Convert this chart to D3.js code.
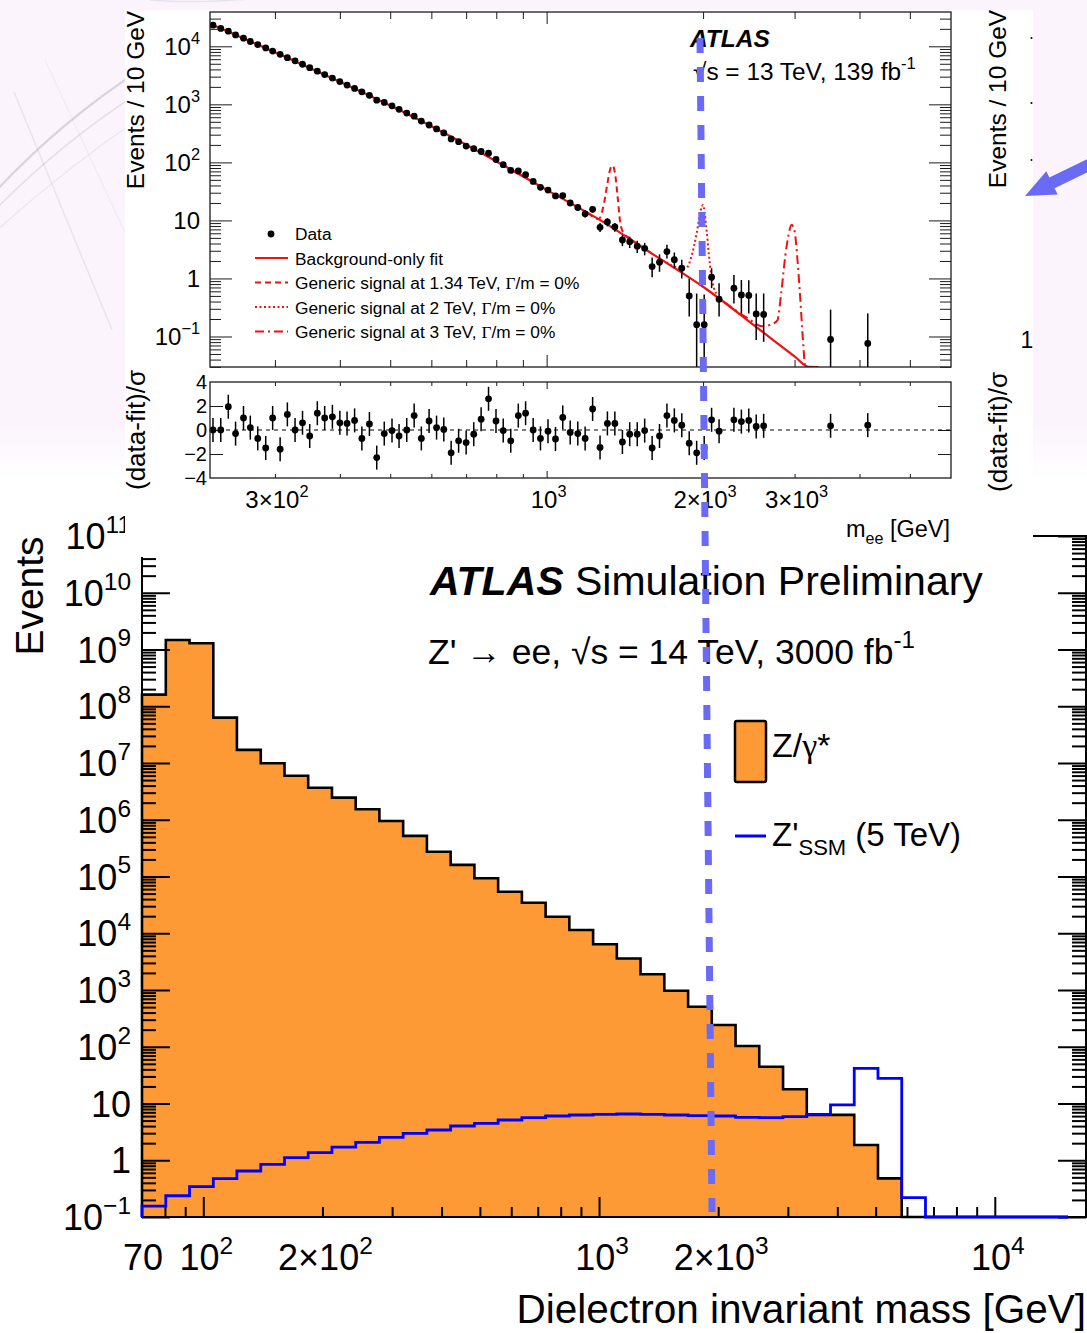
<!DOCTYPE html>
<html>
<head>
<meta charset="utf-8">
<script src="https://cdn.jsdelivr.net/npm/d3@7"></script>
<style>
  html, body { margin: 0; padding: 0; background: #ffffff; }
  svg { display: block; }
</style>
</head>
<body>
<svg id="chart" width="1087" height="1333"></svg>
<script>
// ---------------- Upper panel: 13 TeV dielectron spectrum, 139 fb-1 ----------------
const dataMass = [228,236,244,252,261,269,278,288,297,307,317,328,339,350,362,374,387,400,413,427,
  441,456,471,487,504,520,538,556,574,594,614,634,655,677,700,
  724,748,773,799,825,853,882,911,942,973,
  1006,1040,1074,1110,1148,1186,1226,1267,1309,1353,1399,1445,1494,
  1544,1596,1649,1704,1761,1820,1881,1944,2010,2077,2147,
  2293,2370,2449,2531,2616,
  3519,4149];
const dataValue = [23100,20300,18200,15700,13800,12100,10700,9390,8260,7260,6380,5610,4910,4280,3730,3260,2830,2470,2150,1880,
  1640,1430,1180,1080,944,822,706,626,515,441,377,322,254,227,191,
  172,154,144,112,91.4,72.7,71.2,61.5,47.0,37.2,
  33.3,26.4,26.8,20.0,16.7,13.0,15.5,7.6,9.4,7.7,4.6,4.3,3.6,
  3.3,1.6,1.9,2.9,2.1,1.5,0.5,0.16,0.16,1.05,0.44,
  0.68,0.52,0.51,0.245,0.24,
  0.089,0.076];
const dataPull = [0,0,1.94,-0.3,1.0,0.2,-0.7,-1.5,1.0,-1.6,1.3,0,0.6,-0.5,1.4,1.0,1.1,0.6,0.55,0.8,
  -0.7,0.5,-2.3,-0.3,-0.05,-0.5,0,1.2,-0.7,0.75,0.2,0.05,-1.9,-0.9,-1.05,
  -0.35,0.9,2.6,0.75,-0.05,-0.9,1.2,1.4,0,-0.7,
  -0.1,-0.75,1.05,-0.2,-0.3,-0.7,1.75,-1.45,0.55,0.55,-1.0,-0.35,-0.35,
  -0.05,-1.5,-0.5,1.2,0.8,0.4,-1.1,-1.9,-1.5,0.85,-0.1,
  0.85,0.7,0.8,0.3,0.35,
  0.35,0.4];
// vertical error bars (events / 10 GeV) where they stick out of the markers
const errMass = [1006,1040,1074,1110,1148,1186,1226,1267,1309,1353,1399,1445,1494,1544,1596,1649,1704,1761,1820,1881,1944,2010,2077,2147,2293,2370,2449,2531,2616,3519,4149];
const errLow  = [30.1,23.6,23.9,17.6,14.5,11.2,13.6,6.3,7.9,6.4,3.6,3.35,2.75,2.5,1.05,1.3,2.2,1.5,1.0,0.22,0.001,0.001,0.68,0.22,0.37,0.25,0.25,0.087,0.081,0.001,0.001];
const errHigh = [36.5,29.2,29.7,22.4,18.9,14.9,17.5,9.0,10.9,9.0,5.6,5.25,4.45,4.1,2.3,2.6,3.8,2.8,2.1,1.0,0.55,0.53,1.5,0.83,1.15,0.94,0.93,0.55,0.55,0.29,0.25];

const fitMass  = [225,334,520,812,1000,1266,1600,2000,2577,3000,3190,3335];
const fitValue = [24400,5130,804,96.8,33.6,10.2,2.63,0.72,0.129,0.0454,0.030,0.022];

const sigAMass  = [1200,1260,1290,1310,1325,1340,1355,1370,1385,1400,1440,1480];
const sigAValue = [13.4,10.6,20,45,75,88,62,25,9.5,6.5,5.0,4.2];
const sigBMass  = [1700,1780,1855,1900,1944,1980,2000,2028,2051,2075,2120];
const sigBValue = [1.9,1.55,1.5,2.4,6.0,15.2,18.5,7.8,2.7,1.1,0.55];
const sigCMass  = [2200,2450,2600,2700,2780,2830,2880,2920,2960,3000,3040,3070,3110,3140];
const sigCValue = [0.39,0.2,0.15,0.16,0.19,0.6,2.5,5.5,8.4,6.5,2.0,0.6,0.1,0.028];

const legendEntries = ["Data", "Background-only fit",
  "Generic signal at 1.34 TeV, ", "Generic signal at 2 TeV, ", "Generic signal at 3 TeV, "];

const topYTickValues = [0.1, 1, 10, 100, 1000, 10000];
const topYTickBases  = ["10", "1", "10", "10", "10", "10"];
const topYTickExps   = ["\u22121", null, null, "2", "3", "4"];
const topXTickValues = [300, 1000, 2000, 3000];
const topXTickBases  = ["3\u00d710", "10", "2\u00d710", "3\u00d710"];
const topXTickExps   = ["2", "3", "3", "3"];
const pullTickValues = [-4, -2, 0, 2, 4];
const pullTickLabels = ["\u22124", "\u22122", "0", "2", "4"];

// ---------------- Lower panel: 14 TeV projection, 3000 fb-1 ----------------
const simEdges = [70,80.4,92.3,106,121.6,139.7,160.4,184.1,211.4,242.7,278.6,319.9,367.3,421.7,484.2,555.9,638.3,732.8,841.3,966,
  1109,1273,1462,1679,1927,2213,2540,2917,3349,3845,4414,5068,5819,6681,7671,8807,10112,11610,13330,15304];
const zGammaEvents = [1.6e8,1.47e9,1.29e9,6.3e7,1.7e7,9.9e6,5.97e6,3.67e6,2.45e6,1.53e6,9.5e5,5.2e5,2.73e5,1.6e5,9.3e4,5.4e4,3.45e4,1.95e4,1.14e4,6400,
  3600,1900,973,508,242,103,44.5,17.8,6.3,6.3,1.86,0.48,0,0,0,0,0,0,0];
const zPrimeEvents = [0.156,0.237,0.342,0.473,0.647,0.849,1.11,1.36,1.71,2.07,2.54,2.98,3.41,4.01,4.48,5.12,5.62,6.02,6.27,6.45,
  6.53,6.45,6.27,6.09,6.02,5.71,5.62,5.85,6.45,9.42,41.7,27.8,0.219,0,0,0,0,0,0];

const simYTickValues = [0.1,1,10,100,1e3,1e4,1e5,1e6,1e7,1e8,1e9,1e10,1e11];
const simYTickBases  = ["10","1","10","10","10","10","10","10","10","10","10","10","10"];
const simYTickExps   = ["\u22121",null,null,"2","3","4","5","6","7","8","9","10","11"];
const simXTickValues = [70, 100, 200, 1000, 2000, 10000];
const simXTickBases  = ["70", "10", "2\u00d710", "10", "2\u00d710", "10"];
const simXTickExps   = [null, "2", "2", "3", "3", "4"];

// ---------------- drawing ----------------
const SANS = "'Liberation Sans', Arial, Helvetica, sans-serif";
const SERIF = "'Liberation Serif', 'Times New Roman', serif";
const svg = d3.select("#chart");
const defs = svg.append("defs");

function richText(g, x, y, size, anchor, parts, extra) {
  const t = g.append("text").attr("x", x).attr("y", y).attr("font-size", size)
    .attr("font-family", SANS).attr("text-anchor", anchor).attr("fill", "#000");
  if (extra && extra.transform) t.attr("transform", extra.transform);
  let shift = 0;
  parts.forEach(p => {
    const s = t.append("tspan").text(p.t);
    let target = 0, fs = size;
    if (p.sup) { target = -size * 0.45; fs = size * 0.68; }
    if (p.sub) { target = size * 0.28; fs = size * 0.68; }
    if (p.size) fs = p.size;
    s.attr("font-size", fs);
    if (Math.abs(target - shift) > 1e-6) { s.attr("dy", target - shift); shift = target; }
    if (p.family) s.attr("font-family", p.family);
    if (p.weight) s.attr("font-weight", p.weight);
    if (p.style) s.attr("font-style", p.style);
  });
  return t;
}
function powParts(base, exp) {
  return exp === null ? [{ t: base }] : [{ t: base }, { t: exp, sup: true }];
}
function tickAxis(g, axisFn, scale, values, size, transform, color, width) {
  const a = g.append("g").attr("transform", transform)
    .call(axisFn(scale).tickValues(values).tickSize(size).tickFormat(""));
  a.select(".domain").remove();
  a.selectAll("line").attr("stroke", color).attr("stroke-width", width);
  return a;
}
function logMinors(lo, hi) {
  const out = [];
  for (let k = Math.floor(Math.log10(lo)); k <= Math.ceil(Math.log10(hi)); k++) {
    for (let m = 2; m <= 9; m++) { const v = m * Math.pow(10, k); if (v > lo && v < hi) out.push(v); }
  }
  return out;
}

// slide background
const bgGrad = defs.append("linearGradient").attr("id", "slideBg")
  .attr("x1", 0).attr("y1", 0).attr("x2", 0).attr("y2", 1);
bgGrad.append("stop").attr("offset", "0%").attr("stop-color", "#fbf4fd");
bgGrad.append("stop").attr("offset", "88%").attr("stop-color", "#fbf4fd");
bgGrad.append("stop").attr("offset", "100%").attr("stop-color", "#ffffff");
svg.append("rect").attr("width", 1087).attr("height", 480).attr("fill", "url(#slideBg)");

// faint detector sketch in the slide background
const sketch = svg.append("g").attr("fill", "none").attr("stroke", "#9a9a9a");
[["M-5,192 Q60,122 140,70", 0.35, 2.2], ["M-5,210 Q62,142 140,92", 0.22, 1.6],
 ["M-5,232 Q66,168 140,118", 0.15, 1.4], ["M14,92 L112,330", 0.18, 1.5],
 ["M45,60 L140,265", 0.1, 1.2], ["M150,0 Q200,4 260,-2", 0.2, 1.5]]
  .forEach(([d, op, w]) => sketch.append("path").attr("d", d).attr("stroke-opacity", op).attr("stroke-width", w));

// ================= lower panel =================
const gB = svg.append("g");
gB.append("rect").attr("x", 0).attr("y", 500).attr("width", 1087).attr("height", 833).attr("fill", "#fff");
const zx = d3.scaleLog().domain([70, 17100]).range([142, 1087]);
const zy = d3.scaleLog().domain([0.1, 1e11]).range([1217, 536]);
const zBottom = zy.range()[0];
const zyv = v => v > 0 ? zy(Math.max(v, 0.1)) : zBottom;

function stepPoints(vals) {
  const pts = [[zx(simEdges[0]), zBottom]];
  vals.forEach((v, k) => { pts.push([zx(simEdges[k]), zyv(v)]); pts.push([zx(simEdges[k + 1]), zyv(v)]); });
  pts.push([zx(simEdges[vals.length]), zBottom]);
  return pts;
}
const stepLine = d3.line();
const zgPts = stepPoints(zGammaEvents);
gB.append("path").attr("d", stepLine(zgPts) + "Z").attr("fill", "#fe9a36").attr("stroke", "none");
gB.append("path").attr("d", stepLine(zgPts)).attr("fill", "none").attr("stroke", "#000")
  .attr("stroke-width", 2.6).attr("stroke-linejoin", "miter");

// axes and ticks (ROOT style, ticks inside the frame)
const zyMinor = logMinors(0.1, 1e11);
tickAxis(gB, d3.axisRight, zy, zyMinor, 14, "translate(142,0)", "#000", 2);
tickAxis(gB, d3.axisRight, zy, simYTickValues, 28, "translate(142,0)", "#000", 2);
tickAxis(gB, d3.axisLeft, zy, zyMinor, 14, "translate(1086,0)", "#000", 2);
tickAxis(gB, d3.axisLeft, zy, simYTickValues, 28, "translate(1086,0)", "#000", 2);
const zxMajor = [100, 1000, 10000];
const zxMinor = logMinors(70, 17100).filter(v => v > 70);
tickAxis(gB, d3.axisTop, zx, zxMinor, 10, "translate(0,1217)", "#000", 2);
tickAxis(gB, d3.axisTop, zx, zxMajor, 20, "translate(0,1217)", "#000", 2);
tickAxis(gB, d3.axisBottom, zx, zxMinor, 10, "translate(0,536)", "#000", 2);
tickAxis(gB, d3.axisBottom, zx, zxMajor, 20, "translate(0,536)", "#000", 2);
gB.append("rect").attr("x", 142).attr("y", 536).attr("width", 944).attr("height", 681)
  .attr("fill", "none").attr("stroke", "#000").attr("stroke-width", 2);

// Z'SSM signal histogram
gB.append("path").attr("d", stepLine(stepPoints(zPrimeEvents))).attr("fill", "none")
  .attr("stroke", "#0000ff").attr("stroke-width", 2.8);

// tick labels
simYTickValues.forEach((v, i) => {
  richText(gB, 131, zy(v) + 13, 36, "end", powParts(simYTickBases[i], simYTickExps[i]));
});
simXTickValues.forEach((v, i) => {
  richText(gB, zx(v) + (simXTickExps[i] ? 3 : 1), 1270, 36, "middle", powParts(simXTickBases[i], simXTickExps[i]));
});
richText(gB, 1086, 1323, 40.5, "end", [{ t: "Dielectron invariant mass [GeV]" }]);
richText(gB, 0, 0, 39, "middle", [{ t: "Events" }], { transform: "translate(43,596) rotate(-90)" });

// labels and legend
richText(gB, 430, 595, 41, "start", [{ t: "ATLAS", weight: "bold", style: "italic" }]);
richText(gB, 575, 595, 41, "start", [{ t: "Simulation Preliminary" }]);
richText(gB, 428, 664, 35.5, "start", [{ t: "Z' " }, { t: "\u2192" }, { t: " ee, \u221As = 14 TeV, 3000 fb" }, { t: "-1", sup: true }]);
gB.append("rect").attr("x", 735).attr("y", 721).attr("width", 31).attr("height", 61).attr("rx", 2)
  .attr("fill", "#fe9a36").attr("stroke", "#000").attr("stroke-width", 2.5);
richText(gB, 772, 757, 34, "start", [{ t: "Z/" }, { t: "\u03b3", family: SERIF }, { t: "*" }]);
gB.append("line").attr("x1", 735).attr("x2", 766).attr("y1", 836).attr("y2", 836)
  .attr("stroke", "#0000ff").attr("stroke-width", 3);
richText(gB, 772, 846, 33, "start", [{ t: "Z'" }, { t: "SSM", sub: true, size: 22 }, { t: " (5 TeV)" }]);

// ================= upper panel (pasted plot) =================
const gT = svg.append("g");
gT.append("rect").attr("x", 125).attr("y", 10).attr("width", 908).attr("height", 547).attr("fill", "#fff");

const tx = d3.scaleLog().domain([225, 6000]).range([210, 951]);
const ty = d3.scaleLog().domain([0.0298, 39000]).range([367, 12]).clamp(true);
const ry = d3.scaleLinear().domain([-4, 4]).range([478, 382]);
const FR = "#1c1c1c";

defs.append("clipPath").attr("id", "mainClip").append("rect")
  .attr("x", 210).attr("y", 12).attr("width", 741).attr("height", 355);

// fit and signal curves
const curve = d3.line().x(d => tx(d[0])).y(d => ty(d[1])).curve(d3.curveMonotoneX);
const zip = (a, b) => a.map((m, i) => [m, b[i]]);
const curves = gT.append("g").attr("clip-path", "url(#mainClip)").attr("fill", "none");
curves.append("path").attr("d", curve(zip(sigAMass, sigAValue))).attr("stroke", "#ee1111")
  .attr("stroke-width", 2).attr("stroke-dasharray", "6,4");
curves.append("path").attr("d", curve(zip(sigBMass, sigBValue))).attr("stroke", "#ee1111")
  .attr("stroke-width", 2).attr("stroke-dasharray", "2,2.5");
curves.append("path").attr("d", curve(zip(sigCMass, sigCValue))).attr("stroke", "#ee1111")
  .attr("stroke-width", 2).attr("stroke-dasharray", "9,4,2,4");
curves.append("path").attr("d", curve(zip(fitMass, fitValue))).attr("stroke", "#ee1111")
  .attr("stroke-width", 2.2);

// data points
const pts = gT.append("g").attr("clip-path", "url(#mainClip)");
errMass.forEach((m, i) => {
  pts.append("line").attr("x1", tx(m)).attr("x2", tx(m))
    .attr("y1", ty(errLow[i])).attr("y2", ty(errHigh[i]))
    .attr("stroke", "#000").attr("stroke-width", 1.5);
});
dataMass.forEach((m, i) => {
  pts.append("circle").attr("cx", tx(m)).attr("cy", ty(dataValue[i])).attr("r", 3.4).attr("fill", "#000");
});

// main frame ticks
const tyMinor = logMinors(0.0298, 39000);
const txMinor = [300, 400, 500, 600, 700, 800, 900, 2000, 3000, 4000, 5000];
tickAxis(gT, d3.axisRight, ty, tyMinor, 11, "translate(210,0)", FR, 1);
tickAxis(gT, d3.axisRight, ty, topYTickValues, 22, "translate(210,0)", FR, 1);
tickAxis(gT, d3.axisLeft, ty, tyMinor, 11, "translate(951,0)", FR, 1);
tickAxis(gT, d3.axisLeft, ty, topYTickValues, 22, "translate(951,0)", FR, 1);
tickAxis(gT, d3.axisBottom, tx, txMinor, 7, "translate(0,12)", FR, 1);
tickAxis(gT, d3.axisBottom, tx, [1000], 12, "translate(0,12)", FR, 1);
tickAxis(gT, d3.axisTop, tx, txMinor, 7, "translate(0,367)", FR, 1);
tickAxis(gT, d3.axisTop, tx, [1000], 12, "translate(0,367)", FR, 1);
gT.append("rect").attr("x", 210).attr("y", 12).attr("width", 741).attr("height", 355)
  .attr("fill", "none").attr("stroke", FR).attr("stroke-width", 1.3);

// pull panel
tickAxis(gT, d3.axisRight, ry, [-2, 0, 2], 13, "translate(210,0)", FR, 1);
tickAxis(gT, d3.axisLeft, ry, [-2, 0, 2], 13, "translate(951,0)", FR, 1);
tickAxis(gT, d3.axisBottom, tx, txMinor, 4, "translate(0,382)", FR, 1);
tickAxis(gT, d3.axisBottom, tx, [1000], 7, "translate(0,382)", FR, 1);
tickAxis(gT, d3.axisTop, tx, txMinor, 4, "translate(0,478)", FR, 1);
tickAxis(gT, d3.axisTop, tx, [1000], 7, "translate(0,478)", FR, 1);
gT.append("line").attr("x1", 210).attr("x2", 951).attr("y1", ry(0)).attr("y2", ry(0))
  .attr("stroke", "#000").attr("stroke-width", 1).attr("stroke-dasharray", "4,4");
dataMass.forEach((m, i) => {
  const p = dataPull[i];
  gT.append("line").attr("x1", tx(m)).attr("x2", tx(m)).attr("y1", ry(p - 1)).attr("y2", ry(p + 1))
    .attr("stroke", "#000").attr("stroke-width", 1.5);
  gT.append("circle").attr("cx", tx(m)).attr("cy", ry(p)).attr("r", 3.4).attr("fill", "#000");
});
gT.append("rect").attr("x", 210).attr("y", 382).attr("width", 741).attr("height", 96)
  .attr("fill", "none").attr("stroke", FR).attr("stroke-width", 1.3);

// tick labels
topYTickValues.forEach((v, i) => richText(gT, 200, ty(v) + 8.5, 24, "end", powParts(topYTickBases[i], topYTickExps[i])));
pullTickValues.forEach((v, i) => richText(gT, 207, ry(v) + 7, 20, "end", [{ t: pullTickLabels[i] }]));
topXTickValues.forEach((v, i) => richText(gT, tx(v) + 2, 508, 24, "middle", powParts(topXTickBases[i], topXTickExps[i])));
richText(gT, 950, 537, 23.5, "end", [{ t: "m" }, { t: "ee", sub: true, size: 16 }, { t: " [GeV]" }]);
richText(gT, 0, 0, 24.5, "middle", [{ t: "Events / 10 GeV" }], { transform: "translate(144,100) rotate(-90)" });
richText(gT, 0, 0, 26, "middle", [{ t: "(data-fit)/\u03c3" }], { transform: "translate(145,430) rotate(-90)" });

// ATLAS label
richText(gT, 690, 47, 24.5, "start", [{ t: "ATLAS", weight: "bold", style: "italic" }]);
richText(gT, 693, 80, 24.4, "start", [{ t: "\u221As = 13 TeV, 139 fb" }, { t: "-1", sup: true }]);

// legend
const lg = gT.append("g");
lg.append("circle").attr("cx", 271).attr("cy", 234).attr("r", 3.4).attr("fill", "#000");
const legendDash = [null, "6,4", "2,2.5", "9,4,2,4"];
legendDash.forEach((d, k) => {
  const y = 258 + 24.5 * k;
  const l = lg.append("line").attr("x1", 255).attr("x2", 288).attr("y1", y).attr("y2", y)
    .attr("stroke", "#ee1111").attr("stroke-width", 2);
  if (d) l.attr("stroke-dasharray", d);
});
legendEntries.forEach((s, k) => {
  const parts = [{ t: s }];
  if (k >= 2) parts.push({ t: "\u0393", family: SERIF }, { t: "/m = 0%" });
  richText(lg, 295, 240 + 24.5 * k, 17.3, "start", parts);
});

// edge of the neighbouring plot on the slide
richText(gT, 0, 0, 24.5, "middle", [{ t: "Events / 10 GeV" }], { transform: "translate(1006,99) rotate(-90)" });
richText(gT, 0, 0, 26, "middle", [{ t: "(data-fit)/\u03c3" }], { transform: "translate(1007,432) rotate(-90)" });
richText(gT, 1027, 348, 23, "middle", [{ t: "1" }]);
[38, 103, 160].forEach(y => gT.append("circle").attr("cx", 1031.5).attr("cy", y).attr("r", 1).attr("fill", "#000"));

// ================= slide annotations =================
svg.append("line").attr("x1", 700).attr("y1", 38).attr("x2", 712).attr("y2", 1212)
  .attr("stroke", "#6a6af4").attr("stroke-width", 7).attr("stroke-dasharray", "15,14");
svg.append("polygon")
  .attr("points", "1025,196 1057.7,194.6 1054.6,188.3 1126.6,153.4 1121.4,142.6 1049.4,177.5 1046.3,171.2")
  .attr("fill", "#6a6af4");
</script>
</body>
</html>
